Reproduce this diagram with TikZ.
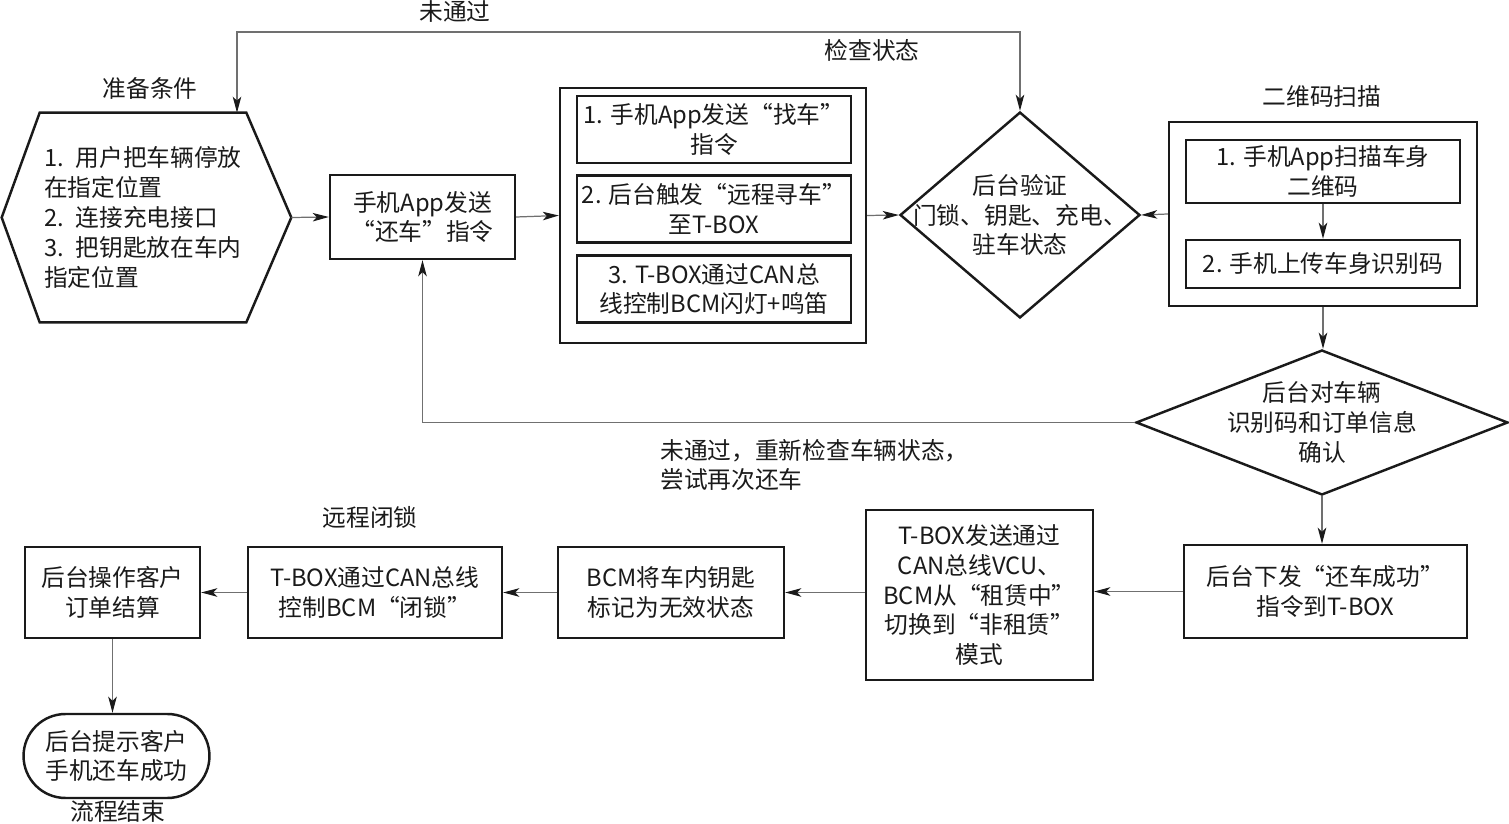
\documentclass[tikz,border=0pt]{standalone}
\usepackage{fontspec}
\setmainfont{Noto Sans CJK SC}
\usepackage{tikz}
\usetikzlibrary{arrows.meta,positioning,shapes.geometric,shapes.misc,calc}
\definecolor{ink}{HTML}{1A1A1A}
\definecolor{linegray}{HTML}{707070}
\newcommand{\flowfont}{\fontsize{13.5pt}{17pt}\selectfont}
\tikzset{
  stepbox/.style={draw=ink,line width=1.4pt,align=center,inner sep=2pt,
                  font=\flowfont,text=ink},
  groupbox/.style={draw=ink,line width=1.4pt},
  judge/.style={diamond,draw=ink,line width=1.4pt,inner sep=0pt},
  endcap/.style={rounded rectangle,draw=ink,line width=1.4pt,align=center,
                 inner sep=2pt,font=\flowfont,text=ink},
  tag/.style={font=\flowfont,text=ink,inner sep=0pt,align=center},
  link/.style={-{Stealth[length=3.2mm,width=1.7mm,inset=0.8mm,color=ink]},
               line width=0.7pt,draw=linegray}
}

\begin{document}
\begin{tikzpicture}[x=0.02cm,y=-0.02cm]
    \path[use as bounding box] (0,0) rectangle (1509,824);
    % preparation hexagon
    \node[minimum width=5.78cm,minimum height=4.18cm,inner sep=0pt] (prep) at (146.5,217.5) {};
    \draw[groupbox] (prep.west) -- ($(prep.north west)+(38,0)$)
      -- ($(prep.north east)+(-45,0)$) -- (prep.east)
      -- ($(prep.south east)+(-45,0)$) -- ($(prep.south west)+(38,0)$) -- cycle;
    \node[tag,align=left,text width=4.1cm] (preptext) at (prep) {1. 用户把车辆停放\\在指定位置\\2. 连接充电接口\\3. 把钥匙放在车内\\指定位置};
    \node[tag] (preplabel) at (150,88) {准备条件};
    \node[stepbox,minimum width=3.7cm,minimum height=1.68cm] (ret) at (422.5,217) {手机App发送\\“还车”指令};
    % find-car group
    \node[groupbox,minimum width=6.12cm,minimum height=5.1cm] (find) at (713,215.5) {};
    \node[stepbox,minimum width=5.48cm,minimum height=1.34cm] (find1) at (714,129.5) {1. 手机App发送“找车”\\指令};
    \node[stepbox,minimum width=5.48cm,minimum height=1.34cm] (find2) at (714,209) {2. 后台触发“远程寻车”\\至T-BOX};
    \node[stepbox,minimum width=5.48cm,minimum height=1.34cm] (find3) at (714,289) {3. T-BOX通过CAN总\\线控制BCM闪灯+鸣笛};
    % verification
    \node[judge,minimum width=4.8cm,minimum height=4.12cm] (verify) at (1020,215) {};
    \node[tag] (verifytext) at (verify) {后台验证\\门锁、钥匙、充电、\\驻车状态};
    \node[tag] (checklabel) at (872,50) {检查状态};
    \node[tag] (faillabel) at (455,12) {未通过};
    % QR scan group
    \node[groupbox,minimum width=6.16cm,minimum height=3.68cm] (qr) at (1323,214) {};
    \node[tag] (qrlabel) at (1322,97) {二维码扫描};
    \node[stepbox,minimum width=5.48cm,minimum height=1.26cm] (qr1) at (1323,171.5) {1. 手机App扫描车身\\二维码};
    \node[stepbox,minimum width=5.48cm,minimum height=0.96cm] (qr2) at (1323,264) {2. 手机上传车身识别码};
    \node[judge,minimum width=7.44cm,minimum height=2.9cm] (check) at (1322,422.5) {};
    \node[tag] (checktext) at (check) {后台对车辆\\识别码和订单信息\\确认};
    \node[tag,align=left,anchor=west] (retrylabel) at (660,465) {未通过，重新检查车辆状态，\\尝试再次还车};
    % bottom row
    \node[stepbox,minimum width=5.66cm,minimum height=1.86cm] (done) at (1325.5,591.5) {后台下发“还车成功”\\指令到T-BOX};
    \node[stepbox,minimum width=4.54cm,minimum height=3.4cm] (mode) at (979.5,595) {T-BOX发送通过\\CAN总线VCU、\\BCM从“租赁中”\\切换到“非租赁”\\模式};
    \node[stepbox,minimum width=4.52cm,minimum height=1.82cm] (key) at (671,592.5) {BCM将车内钥匙\\标记为无效状态};
    \node[stepbox,minimum width=5.08cm,minimum height=1.82cm] (lock) at (375,592.5) {T-BOX通过CAN总线\\控制BCM“闭锁”};
    \node[tag] (locklabel) at (370,517) {远程闭锁};
    \node[stepbox,minimum width=3.5cm,minimum height=1.82cm] (settle) at (112.5,592.5) {后台操作客户\\订单结算};
    \node[endcap,minimum width=3.86cm,minimum height=1.68cm] (finish) at (116.5,756) {后台提示客户\\手机还车成功};
    \node[tag,anchor=south] (endlabel) at (118,823) {流程结束};
    % connectors
    \coordinate (loopl) at (237,32);
    \draw[link] (prep.east) -- (ret.west);
    \draw[link] (ret.east) -- (find.west);
    \draw[link] (find.east) -- (verify.west);
    \draw[link] (qr.west) -- (verify.east);
    \draw[link,{Stealth[length=3.2mm,width=1.7mm,inset=0.8mm,color=ink]}-{Stealth[length=3.2mm,width=1.7mm,inset=0.8mm,color=ink]}]
      (prep.north -| loopl) -- (loopl) -| (verify.north);
    \draw[link] (qr1.south) -- (qr2.north);
    \draw[link] (qr.south) -- (qr.south |- check.north);
    \draw[link] (check.west) -| (ret.south);
    \draw[link] (check.south) -- (check.south |- done.north);
    \draw[link] (done.west) -- (done.west -| mode.east);
    \draw[link] (mode.west |- key.east) -- (key.east);
    \draw[link] (key.west) -- (lock.east);
    \draw[link] (lock.west) -- (settle.east);
    \draw[link] (settle.south) -- (settle.south |- finish.north);
  \end{tikzpicture}
\end{document}
